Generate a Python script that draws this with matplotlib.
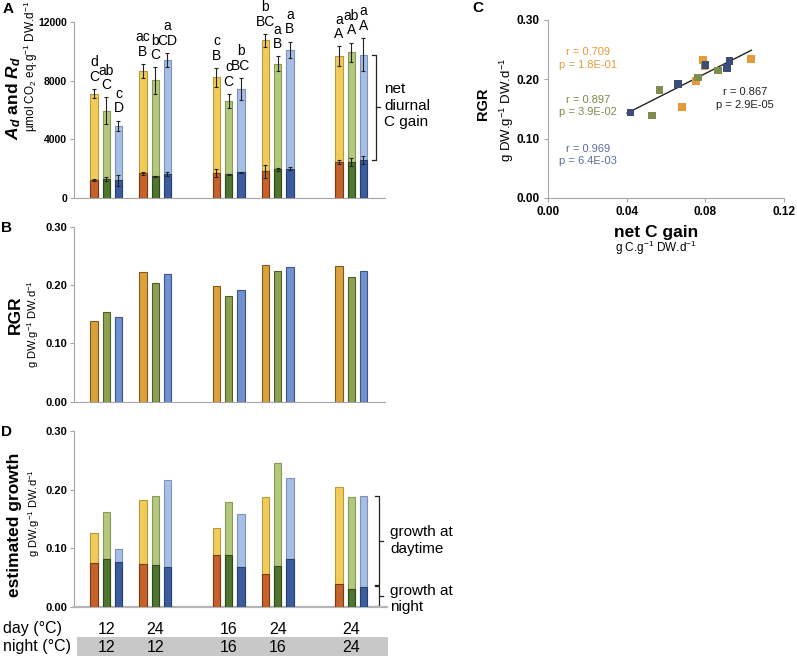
import matplotlib
matplotlib.use("Agg")
import matplotlib.pyplot as plt
import matplotlib.transforms as mtransforms
from matplotlib.patches import Rectangle
import numpy as np

plt.rcParams['font.family'] = ['Liberation Sans', 'DejaVu Sans']
plt.rcParams['mathtext.fontset'] = 'custom'
plt.rcParams['mathtext.rm'] = 'Liberation Sans'
plt.rcParams['mathtext.it'] = 'Liberation Sans:italic'
plt.rcParams['mathtext.bf'] = 'Liberation Sans:bold'
plt.rcParams['mathtext.bfit'] = 'Liberation Sans:bold:italic'
plt.rcParams['mathtext.sf'] = 'Liberation Sans'

# ---------------- data ----------------
day_temp = [12, 24, 16, 24, 24]
night_temp = [12, 12, 16, 16, 24]
group_start = [0, 4, 10, 14, 20]

# Panel A: Ad (total bar) and Rd (bottom bar), umol CO2 eq g-1 DW d-1
Ad_orange = [7110, 8660, 8230, 10750, 9660]
Ad_green = [5950, 8020, 6610, 9140, 9950]
Ad_blue = [4930, 9410, 7450, 10090, 9770]
Ad_err_orange = [320, 480, 650, 450, 680]
Ad_err_green = [920, 900, 480, 510, 650]
Ad_err_blue = [340, 490, 750, 570, 1140]
Rd_orange = [1230, 1680, 1700, 1820, 2480]
Rd_green = [1290, 1480, 1610, 1950, 2450]
Rd_blue = [1200, 1640, 1750, 2000, 2590]
Rd_err_orange = [60, 100, 300, 450, 130]
Rd_err_green = [150, 50, 40, 120, 250]
Rd_err_blue = [380, 120, 30, 80, 300]
letters_upper_orange = ['d', 'ac', 'c', 'b', 'a']
letters_upper_green = ['ab', 'b', 'c', 'a', 'ab']
letters_upper_blue = ['c', 'a', 'b', 'a', 'a']
letters_lower_orange = ['C', 'B', 'B', 'BC', 'A']
letters_lower_green = ['C', 'C', 'C', 'B', 'A']
letters_lower_blue = ['D', 'CD', 'BC', 'B', 'A']

# Panel B: RGR
rgr_orange = [0.138, 0.222, 0.198, 0.234, 0.233]
rgr_green = [0.153, 0.204, 0.181, 0.224, 0.214]
rgr_blue = [0.145, 0.219, 0.192, 0.231, 0.224]

# Panel D: estimated growth (total) and night growth
growth_total_orange = [0.126, 0.182, 0.135, 0.188, 0.204]
growth_total_green = [0.162, 0.189, 0.179, 0.245, 0.187]
growth_total_blue = [0.099, 0.216, 0.158, 0.219, 0.189]
growth_night_orange = [0.074, 0.073, 0.088, 0.055, 0.039]
growth_night_green = [0.081, 0.071, 0.088, 0.070, 0.030]
growth_night_blue = [0.076, 0.068, 0.067, 0.081, 0.033]

# Panel C: scatter net C gain vs RGR
c_orange_x = [0.0681, 0.0751, 0.0788, 0.1031, 0.0795]
c_orange_y = [0.153, 0.197, 0.233, 0.234, 0.222]
c_green_x = [0.0529, 0.0566, 0.0764, 0.0864, 0.0798]
c_green_y = [0.139, 0.182, 0.203, 0.215, 0.2235]
c_blue_x = [0.0419, 0.0661, 0.0800, 0.0910, 0.0922]
c_blue_y = [0.144, 0.192, 0.224, 0.219, 0.2305]
trend_x = [0.0402, 0.1034]
trend_y = [0.143, 0.249]
stats_orange = "r = 0.709\np = 1.8E-01"
stats_green = "r = 0.897\np = 3.9E-02"
stats_blue = "r = 0.969\np = 6.4E-03"
stats_all = "r = 0.867\np = 2.9E-05"

# ---------------- style ----------------
W, H = 797, 657
fig = plt.figure(figsize=(W / 100, H / 100), dpi=100)

dark = ['#C5632A', '#4F7530', '#3D5C9E']
dark_edge = ['#7A3A15', '#2E4A1A', '#25406F']
light = ['#F1CC5A', '#B5C97E', '#A7BEE5']
light_edge = ['#B89A3A', '#859A55', '#7C92BA']
mid = ['#DDA13C', '#8EA152', '#7191CF']
mid_edge = ['#7F5A1E', '#4F5F28', '#3E5488']
sc_col = ['#E39B3A', '#7E8D4D', '#3E4C7A']
txt_col = ['#E39B3A', '#7A8B4A', '#5B6C96']
spine_col = '#A6A6A6'

def ax_px(l, t, r, b):
    return fig.add_axes([l / W, 1 - b / H, (r - l) / W, (b - t) / H])

def ftext(x, y, s, **kw):
    return fig.text(x / W, 1 - y / H, s, **kw)

def style_bar_axes(ax, ylim, ticks, labels, fs):
    ax.set_xlim(-1.63, 23.76)
    ax.set_ylim(*ylim)
    ax.set_yticks(ticks)
    ax.set_yticklabels(labels, fontsize=fs, fontweight='bold')
    ax.set_xticks([])
    for s in ['top', 'right']:
        ax.spines[s].set_visible(False)
    ax.spines['left'].set_color(spine_col)
    ax.spines['bottom'].set_color(spine_col)
    ax.tick_params(axis='y', length=3, color=spine_col, pad=2)
    ax.patch.set_alpha(0)

bw = 0.6
gs = np.array(group_start, dtype=float)

# ---------------- Panel A ----------------
axA = ax_px(74, 22, 385, 198)
style_bar_axes(axA, (0, 12000), [0, 4000, 8000, 12000], ['0', '4000', '8000', '12000'], 7.5)
Ad = [Ad_orange, Ad_green, Ad_blue]
Ad_err = [Ad_err_orange, Ad_err_green, Ad_err_blue]
Rd = [Rd_orange, Rd_green, Rd_blue]
Rd_err = [Rd_err_orange, Rd_err_green, Rd_err_blue]
lu = [letters_upper_orange, letters_upper_green, letters_upper_blue]
ll = [letters_lower_orange, letters_lower_green, letters_lower_blue]
for i in range(3):
    x = gs + i
    axA.bar(x, Ad[i], bw, color=light[i], edgecolor=light_edge[i], linewidth=0.8, zorder=2)
    axA.bar(x, Rd[i], bw, color=dark[i], edgecolor=dark_edge[i], linewidth=0.8, zorder=3)
    axA.errorbar(x, Ad[i], yerr=Ad_err[i], fmt='none', ecolor='#222222', elinewidth=0.8, capsize=1.6, capthick=0.8, zorder=4)
    axA.errorbar(x, Rd[i], yerr=Rd_err[i], fmt='none', ecolor='#222222', elinewidth=0.8, capsize=1.6, capthick=0.8, zorder=4)
    for k in range(5):
        top = Ad[i][k] + Ad_err[i][k]
        axA.annotate(ll[i][k], (x[k], top), xytext=(0, 8.8), textcoords='offset points',
                     ha='center', va='center', fontsize=10, annotation_clip=False)
        axA.annotate(lu[i][k], (x[k], top), xytext=(0, 19.2), textcoords='offset points',
                     ha='center', va='center', fontsize=10, annotation_clip=False)
# bracket
bx0, bx1, bx2 = 22.67, 23.02, 23.32
btop, bbot = 9750, 2600
axA.plot([bx0, bx1, bx1, bx0], [btop, btop, bbot, bbot], color='#222222', lw=0.9, clip_on=False)
axA.plot([bx1, bx2], [(btop + bbot) / 2] * 2, color='#222222', lw=0.9, clip_on=False)
ftext(384, 89, 'net', fontsize=11, ha='left', va='center')
ftext(384, 106, 'diurnal', fontsize=11, ha='left', va='center')
ftext(384, 122, 'C gain', fontsize=11, ha='left', va='center')

ftext(8, 9, 'A', fontsize=11, fontweight='bold', ha='center', va='center')
ftext(14, 98, r'$\mathbfit{A}_{\mathbfit{d}}$ and $\mathbfit{R}_{\mathbfit{d}}$', fontsize=12.5,
      fontweight='bold', rotation=90, ha='center', va='center')
ftext(31, 66, r'µmol CO$_2$ eq.g$^{-1}$ DW.d$^{-1}$', fontsize=8.5, rotation=90, ha='center', va='center')

# ---------------- Panel B ----------------
axB = ax_px(74, 226.7, 385, 401.7)
style_bar_axes(axB, (0, 0.30), [0, 0.1, 0.2, 0.3], ['0.00', '0.10', '0.20', '0.30'], 8)
rgr = [rgr_orange, rgr_green, rgr_blue]
for i in range(3):
    axB.bar(gs + i, rgr[i], bw, color=mid[i], edgecolor=mid_edge[i], linewidth=0.8, zorder=2)
ftext(7, 228, 'B', fontsize=11, fontweight='bold', ha='center', va='center')
ftext(15, 315, 'RGR', fontsize=12.5, fontweight='bold', rotation=90, ha='center', va='center')
ftext(33, 324, r'g DW.g$^{-1}$ DW.d$^{-1}$', fontsize=8, rotation=90, ha='center', va='center')

# ---------------- Panel D ----------------
axD = ax_px(74, 431, 387, 606.7)
style_bar_axes(axD, (0, 0.30), [0, 0.1, 0.2, 0.3], ['0.00', '0.10', '0.20', '0.30'], 8)
axD.set_xlim(-1.63, 23.92)
axD.spines['bottom'].set_linewidth(1.6)
axD.spines['bottom'].set_color('#B5B5B5')
gt = [growth_total_orange, growth_total_green, growth_total_blue]
gn = [growth_night_orange, growth_night_green, growth_night_blue]
for i in range(3):
    x = gs + i
    axD.bar(x, gt[i], bw, color=light[i], edgecolor=light_edge[i], linewidth=0.8, zorder=2)
    axD.bar(x, gn[i], bw, color=dark[i], edgecolor=dark_edge[i], linewidth=0.8, zorder=3)
dx0, dx1, dx2 = 22.94, 23.29, 23.57
u_top, u_bot = 0.189, 0.037
l_top, l_bot = 0.035, 0.001
axD.plot([dx0, dx1, dx1, dx0], [u_top, u_top, u_bot, u_bot], color='#222222', lw=0.9, clip_on=False)
axD.plot([dx1, dx2], [(u_top + u_bot) / 2] * 2, color='#222222', lw=0.9, clip_on=False)
axD.plot([dx0, dx1, dx1, dx0], [l_top, l_top, l_bot, l_bot], color='#222222', lw=0.9, clip_on=False)
axD.plot([dx1, dx2], [(l_top + l_bot) / 2] * 2, color='#222222', lw=0.9, clip_on=False)
ftext(390, 532, 'growth at', fontsize=11, ha='left', va='center')
ftext(390, 549, 'daytime', fontsize=11, ha='left', va='center')
ftext(390, 591, 'growth at', fontsize=11, ha='left', va='center')
ftext(390, 607, 'night', fontsize=11, ha='left', va='center')

ftext(7, 432, 'D', fontsize=11, fontweight='bold', ha='center', va='center')
ftext(15, 525, 'estimated growth', fontsize=12.5, fontweight='bold', rotation=90, ha='center', va='center')
ftext(34, 513, r'g DW.g$^{-1}$ DW.d$^{-1}$', fontsize=8, rotation=90, ha='center', va='center')

# temperature table
fig.patches.append(Rectangle((77 / W, 1 - 656 / H), (388 - 77) / W, 19 / H,
                             transform=fig.transFigure, facecolor='#C8C8C8', edgecolor='none', zorder=0))
ftext(3, 629, 'day (°C)', fontsize=11.5, ha='left', va='center')
ftext(3, 647, 'night (°C)', fontsize=11.5, ha='left', va='center')
blend = mtransforms.blended_transform_factory(axD.transData, fig.transFigure)
for k in range(5):
    xc = gs[k] + 1
    fig.text(xc, 1 - 629 / H, str(day_temp[k]), transform=blend, fontsize=11.5, ha='center', va='center')
    fig.text(xc, 1 - 647 / H, str(night_temp[k]), transform=blend, fontsize=11.5, ha='center', va='center')

# ---------------- Panel C ----------------
axC = ax_px(548, 20, 784, 198)
axC.set_xlim(0, 0.12)
axC.set_ylim(0, 0.30)
axC.set_xticks([0, 0.04, 0.08, 0.12])
axC.set_xticklabels(['0.00', '0.04', '0.08', '0.12'], fontsize=8.5, fontweight='bold')
axC.set_yticks([0, 0.1, 0.2, 0.3])
axC.set_yticklabels(['0.00', '0.10', '0.20', '0.30'], fontsize=8.5, fontweight='bold')
for s in ['top', 'right']:
    axC.spines[s].set_visible(False)
axC.spines['left'].set_color(spine_col)
axC.spines['bottom'].set_color(spine_col)
axC.tick_params(length=3, color=spine_col, pad=3)
axC.plot(trend_x, trend_y, color='#222222', lw=1.0, zorder=2)
for xs, ys, c in [(c_orange_x, c_orange_y, sc_col[0]), (c_green_x, c_green_y, sc_col[1]),
                  (c_blue_x, c_blue_y, sc_col[2])]:
    axC.scatter(xs, ys, marker='s', s=30, color=c, edgecolors='none', zorder=3)
axC.text(0.0203, 0.235, stats_orange, color=txt_col[0], fontsize=8, ha='center', va='center', linespacing=1.3)
axC.text(0.0203, 0.155, stats_green, color=txt_col[1], fontsize=8, ha='center', va='center', linespacing=1.3)
axC.text(0.0203, 0.0725, stats_blue, color=txt_col[2], fontsize=8, ha='center', va='center', linespacing=1.3)
axC.text(0.100, 0.168, stats_all, color='#222222', fontsize=8, ha='center', va='center', linespacing=1.3)
ftext(478, 8, 'C', fontsize=11, fontweight='bold', ha='center', va='center')
ftext(483, 104, 'RGR', fontsize=10.5, fontweight='bold', rotation=90, ha='center', va='center')
ftext(507, 110, r'g DW.g$^{-1}$ DW.d$^{-1}$', fontsize=9.5, rotation=90, ha='center', va='center')
ftext(656, 232, 'net C gain', fontsize=12.5, fontweight='bold', ha='center', va='center')
ftext(656, 248, r'g C.g$^{-1}$ DW.d$^{-1}$', fontsize=8.5, ha='center', va='center')

fig.savefig('out.png', dpi=100)
